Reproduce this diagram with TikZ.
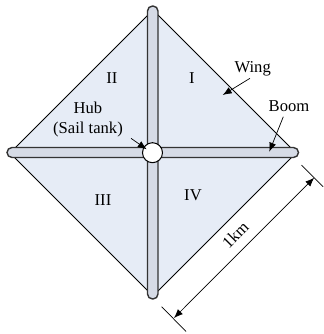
\documentclass[tikz,border=0pt]{standalone}
\usepackage{fontspec}
\setmainfont{Liberation Serif}
\usetikzlibrary{arrows.meta}
\definecolor{wingblue}{RGB}{230,236,246}
\definecolor{boomgray}{RGB}{214,219,230}
\begin{document}
\begin{tikzpicture}[x=0.5pt,y=-0.5pt,
  lbl/.style={font=\fontsize{8.3}{10}\selectfont,inner sep=0pt},
  boom/.style={fill=boomgray,draw=black!80,line width=0.7pt,rounded corners=2.5pt},
  ptr/.style={draw=black,line width=0.35pt,-{Latex[length=4.5pt,width=3.5pt]}},
  dim/.style={draw=black,line width=0.35pt}]
\useasboundingbox (0,0) rectangle (324,334);
% sail
\filldraw[fill=wingblue,draw=black,line width=0.4pt] (153,10) -- (296,153) -- (153,296) -- (10,153) -- cycle;
% booms
\filldraw[boom] (147.5,6) rectangle (158,299);
\filldraw[boom] (7,147.5) rectangle (298.5,157.5);
\node[circle,draw=black,fill=white,line width=0.5pt,minimum size=10pt,inner sep=0pt] (hub) at (152.5,152.7) {};
% quadrants
\node[lbl] (q1) at (192,78) {I};
\node[lbl] (q2) at (112,78) {II};
\node[lbl] (q3) at (103,200) {III};
\node[lbl] (q4) at (193,195) {IV};
% labels
\node[lbl] (wing) at (252.7,68.5) {Wing};
\node[lbl] (boomlbl) at (289,106) {Boom};
\node[lbl,align=center] (hublbl) at (88,120) {Hub\\(Sail tank)};
\coordinate (wingA) at (250,78.3);
\coordinate (wingB) at (222.7,95);
\coordinate (boomA) at (283.3,116.7);
\coordinate (boomB) at (269.3,151.7);
\coordinate (hubA) at (131,138.3);
\coordinate (hubB) at (146.7,149.3);
\draw[ptr] (wingA) -- (wingB);
\draw[ptr] (boomA) -- (boomB);
\draw[ptr] (hubA) -- (hubB);
% dimension
\coordinate (e1a) at (301.6,165.1);
\coordinate (e1b) at (323.1,186.7);
\coordinate (e2a) at (161.7,306.7);
\coordinate (e2b) at (186.1,331.6);
\coordinate (d1) at (314.2,177.7);
\coordinate (d2) at (174,318);
\draw[dim] (e1a) -- (e1b);
\draw[dim] (e2a) -- (e2b);
\draw[dim,{Latex[length=4.5pt,width=3.5pt]}-{Latex[length=4.5pt,width=3.5pt]}] (d1) -- (d2);
\node[lbl,rotate=45] (len) at (235.2,235) {1km};
\end{tikzpicture}
\end{document}
